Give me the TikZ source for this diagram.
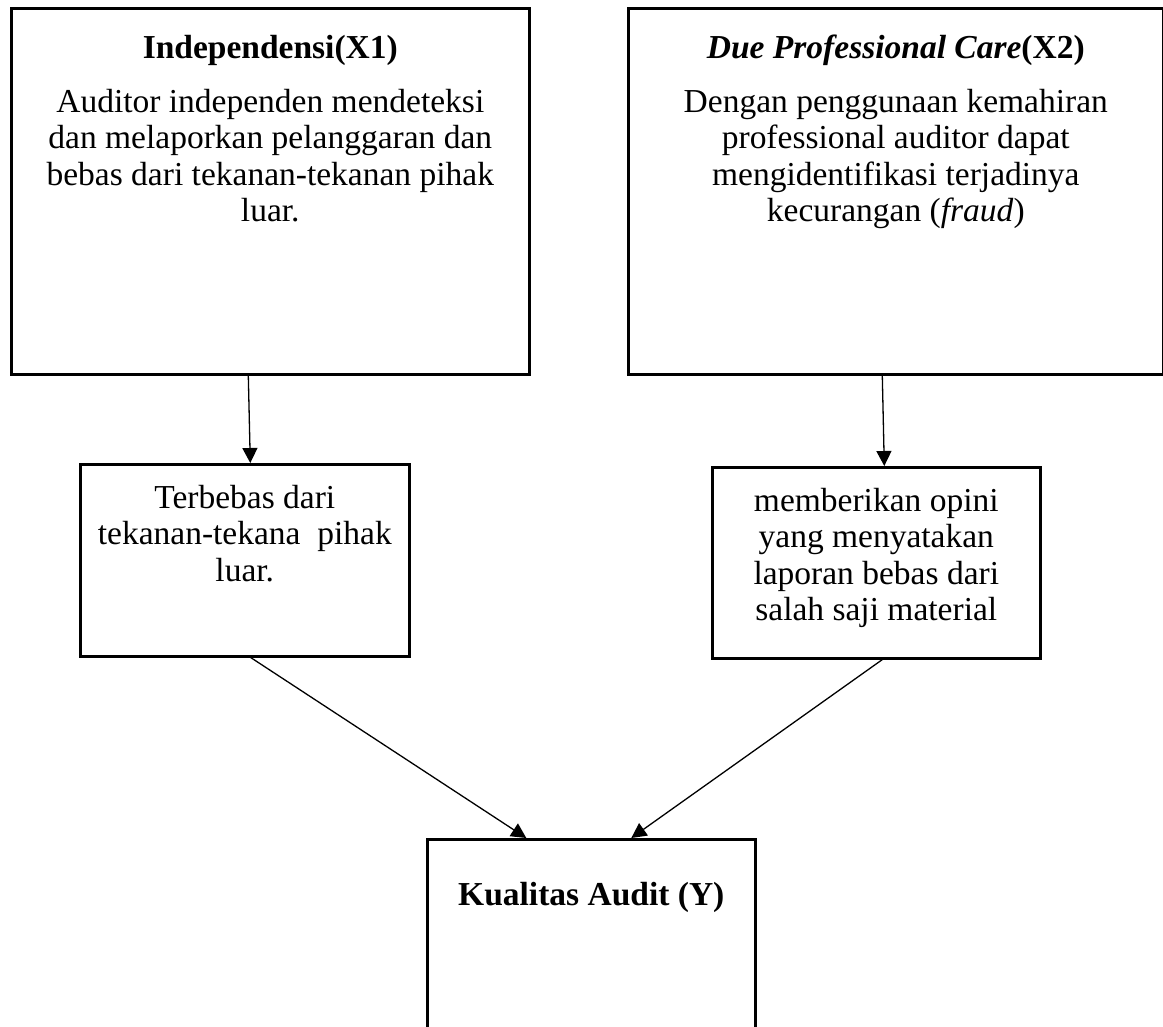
\documentclass[tikz,border=0pt]{standalone}
\usepackage{fontspec}
\setmainfont{Liberation Serif}
\usetikzlibrary{arrows.meta,calc}
\tikzset{
  box/.style={draw, line width=2.6pt, rectangle, anchor=north west, inner sep=0pt},
  txt/.style={align=center, inner sep=0pt, anchor=north, font=\fontsize{33.5}{36.5}\selectfont},
  arr/.style={line width=1.3pt, -{Triangle[length=15pt,width=15pt]}},
}
\begin{document}
\begin{tikzpicture}[x=1pt,y=-1pt]
\useasboundingbox (0,0) rectangle (1163,1027);
% boxes
\node[box, minimum width=518pt, minimum height=366pt] (b1) at (10,7) {};
\node[box, minimum width=535pt, minimum height=366pt] (b2) at (627,7) {};
\node[box, minimum width=329pt, minimum height=192pt] (b3) at (79,463) {};
\node[box, minimum width=328pt, minimum height=191pt] (b4) at (711,466) {};
\node[box, minimum width=328pt, minimum height=260pt] (b5) at (426,838) {};
% texts
\node[txt] (t1h) at ([yshift=-28pt]b1.north) {\textbf{Independensi(X1)}};
\node[txt] (t1) at ([yshift=-82pt]b1.north) {Auditor independen mendeteksi\\dan melaporkan pelanggaran dan\\bebas dari tekanan-tekanan pihak\\luar.};
\node[txt] (t2h) at ([yshift=-28pt]b2.north) {\textbf{\textit{Due Professional Care}(X2)}};
\node[txt] (t2) at ([yshift=-82pt]b2.north) {Dengan penggunaan kemahiran\\professional auditor dapat\\mengidentifikasi terjadinya\\kecurangan (\textit{fraud})};
\node[txt] (t3) at ([yshift=-22pt]b3.north) {Terbebas dari\\tekanan-tekana\ \ pihak\\luar.};
\node[txt] (t4) at ([yshift=-22pt]b4.north) {memberikan opini\\yang menyatakan\\laporan bebas dari\\salah saji material};
\node[txt] (t5) at ([yshift=-44pt]b5.north) {\textbf{Kualitas Audit (Y)}};
% connectors
\draw[arr] ([xshift=-22pt]b1.south) -- ([xshift=5.5pt]b3.north);
\draw[arr] ([xshift=-13.5pt]b2.south) -- ([xshift=8pt]b4.north);
\draw[arr] ([xshift=6pt]b3.south) -- ([xshift=-65pt]b5.north);
\draw[arr] ([xshift=6pt]b4.south) -- ([xshift=40pt]b5.north);
\end{tikzpicture}
\end{document}
